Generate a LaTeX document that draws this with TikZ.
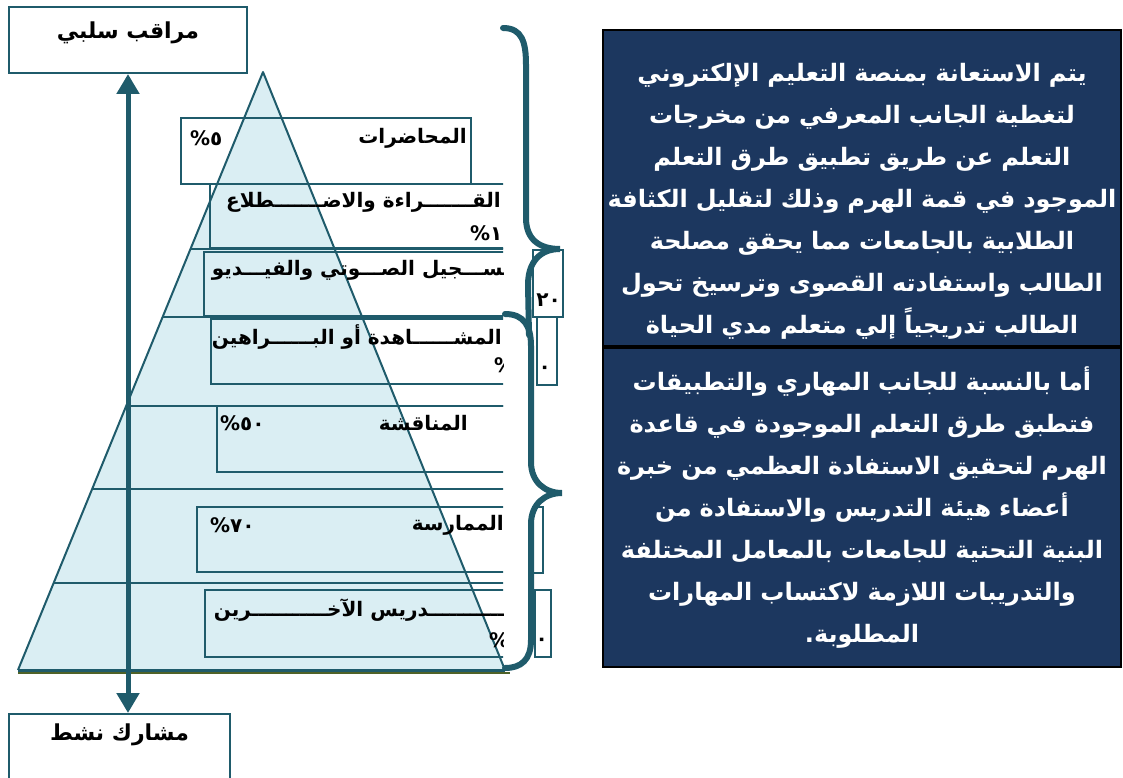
\documentclass[tikz,border=0pt]{standalone}
\usepackage{fontspec}
\newfontfamily\arabicfont[Script=Arabic]{DejaVu Sans}
\TeXXeTstate=1
\usetikzlibrary{arrows.meta,calc,positioning}
\definecolor{pyrline}{HTML}{1F5B6B}
\definecolor{pyrfill}{HTML}{DAEEF3}
\definecolor{notefill}{HTML}{1C375F}
\definecolor{baseolive}{HTML}{4F6228}
\newcommand{\artxt}[1]{\beginR #1\endR}

\begin{document}
\begin{tikzpicture}
  [x=1pt,y=-1pt,
   frame/.style={draw=pyrline,line width=1.8pt},
   band/.style={draw=pyrline,line width=1.8pt},
   lbl/.style={anchor=east,inner sep=0pt,font=\arabicfont\bfseries\fontsize{20}{24}\selectfont},
   pct/.style={lbl,anchor=west},
   brace/.style={draw=pyrline,line width=6pt,line cap=round},
   endbox/.style={draw=pyrline,line width=2pt,fill=white,
     font=\arabicfont\bfseries\fontsize{22}{26}\selectfont},
   note/.style={draw=black,line width=2.2pt,fill=notefill,text=white,
     minimum width=518pt,text width=514pt,align=center,inner sep=0pt,
     font=\arabicfont\bfseries\fontsize{24}{42}\selectfont}]
  \useasboundingbox (0,0) rectangle (1123,778);

  % pyramid
  \coordinate (apex) at (263,72);
  \coordinate (pbl) at (18,670);
  \coordinate (pbr) at (505,670);
  \fill[pyrfill] (apex) -- (pbr) -- (pbl) -- cycle;
  \draw[baseolive,line width=2pt] (18,673) -- (510,673);
  \draw[pyrline,line width=2pt,line join=round] (pbl) -- (apex) -- (pbr);
  \draw[pyrline,line width=3pt] (pbl) -- (pbr);

  % level boxes and labels
  \draw[frame] (181,118) rectangle (471,184);
  \node (lect) [lbl] at (467,138) {\artxt{المحاضرات}};
  \node (lectp) [pct] at (190,138) {٥\%};
  \begin{scope}
    \clip (0,0) rectangle (503,700);
    \foreach \yy in {249,317,406,489,583}
      \draw[band] ($(apex)!{(\yy-72)/598}!(pbl)$) -- (503,\yy);
    \foreach \xx/\ya/\yb in {210/184/248,204/252/316,211/319/384,217/406/472,197/507/572,205/590/657}
      \draw[frame] (\xx,\ya) rectangle (560,\yb);
    \node (read) [lbl] at (501,202) {\artxt{القـــــــراءة والاضـــــــطلاع}};
    \node (readp) [pct] at (470,233) {١٠\%};
    \node (audio) [lbl] at (511,270) {\artxt{تســـجيل الصـــوتي والفيـــديو}};
    \node (demo) [lbl] at (502,337) {\artxt{المشــــــاهدة أو البــــــراهين}};
    \node (demop) [pct] at (494,365) {٣٠\%};
    \node (disc) [lbl] at (468,423) {\artxt{المناقشة}};
    \node (discp) [pct] at (220,423) {٥٠\%};
    \node (prac) [lbl] at (504,525) {\artxt{الممارسة}};
    \node (pracp) [pct] at (210,525) {٧٠\%};
    \node (teach) [lbl] at (512,610) {\artxt{تـــــــــــدريس الآخـــــــــــرين}};
    \node (teachp) [pct] at (489,640) {٩٠\%};
  \end{scope}

  % stray boxes beside the pyramid
  \draw[frame] (533,250) rectangle (563,317);
  \draw[frame] (537,317) rectangle (557,385);
  \draw[frame] (533,507) rectangle (543,573);
  \draw[frame] (535,590) rectangle (551,657);
  \node (audiop) [lbl] at (561,300) {٢٠};
  \node (demoq) [lbl] at (551,370) {٠};
  \node (teachq) [lbl] at (548,642) {٠};

  % braces
  \draw[brace] (503,28) .. controls (522,28) and (526,42) .. (526,65)
    -- (526,218) .. controls (526,240) and (540,249) .. (560,249)
    .. controls (540,249) and (528,262) .. (528,285) -- (529,335);
  \draw[brace] (505,314) .. controls (524,314) and (531,326) .. (531,346)
    -- (531,462) .. controls (531,482) and (545,493) .. (562,493)
    .. controls (545,493) and (531,504) .. (531,524)
    -- (531,640) .. controls (531,660) and (521,668) .. (505,668);

  % passive / active learner
  \node (passive) [endbox,minimum width=238pt,minimum height=66pt,
    text height=16pt,text depth=18pt] at (128,40) {\artxt{مراقب سلبي}};
  \node (active) [endbox,minimum width=221pt,minimum height=80pt,anchor=north,
    text height=16pt,text depth=44pt] at (119.5,713) {\artxt{مشارك نشط}};
  \draw[pyrline,line width=5pt,
    {Triangle[width=22pt,length=20pt]}-{Triangle[width=22pt,length=20pt]}]
    (passive.south) -- (passive.south |- active.north);

  % notes
  \node (cogn) [note,minimum height=316pt] at (862,188)
    {\rule{0pt}{44pt}\artxt{يتم الاستعانة بمنصة التعليم الإلكتروني}\\
     \artxt{لتغطية الجانب المعرفي من مخرجات}\\
     \artxt{التعلم عن طريق تطبيق طرق التعلم}\\
     \artxt{الموجود في قمة الهرم وذلك لتقليل الكثافة}\\
     \artxt{الطلابية بالجامعات مما يحقق مصلحة}\\
     \artxt{الطالب واستفادته القصوى وترسيخ تحول}\\
     \artxt{الطالب تدريجياً إلي متعلم مدي الحياة}};
  \node (skill) [note,minimum height=319pt,below=0pt of cogn]
    {\artxt{أما بالنسبة للجانب المهاري والتطبيقات}\\
     \artxt{فتطبق طرق التعلم الموجودة في قاعدة}\\
     \artxt{الهرم لتحقيق الاستفادة العظمي من خبرة}\\
     \artxt{أعضاء هيئة التدريس والاستفادة من}\\
     \artxt{البنية التحتية للجامعات بالمعامل المختلفة}\\
     \artxt{والتدريبات اللازمة لاكتساب المهارات}\\
     \artxt{المطلوبة.}};
\end{tikzpicture}
\end{document}
